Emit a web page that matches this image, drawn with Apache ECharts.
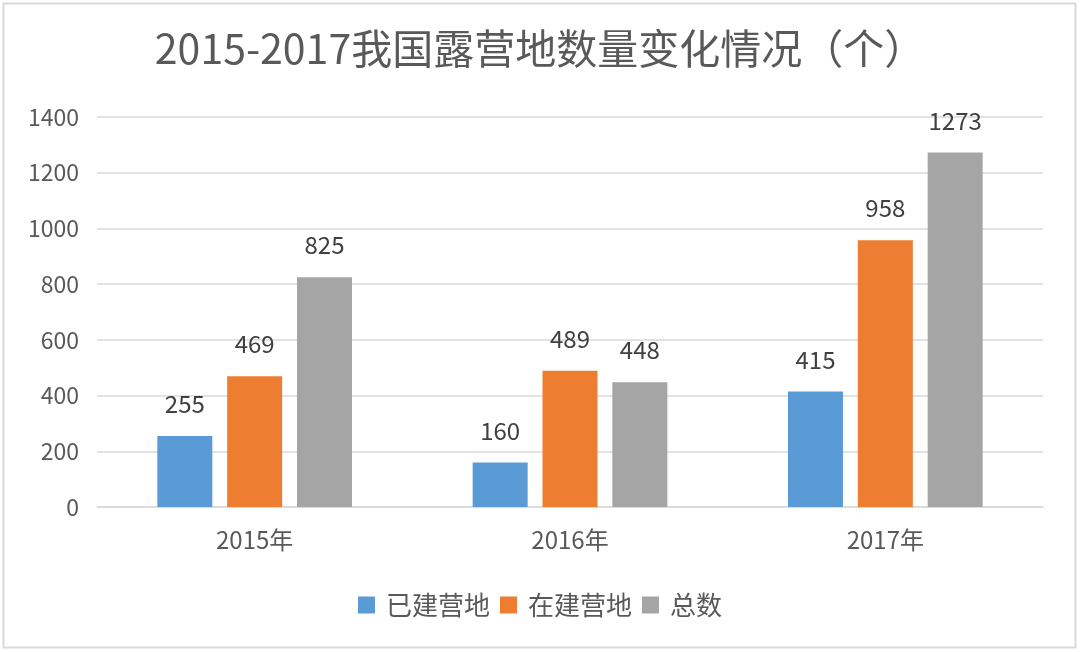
<!DOCTYPE html>
<html><head><meta charset="utf-8">
<script src="https://cdn.jsdelivr.net/npm/echarts@6/dist/echarts.min.js"></script>
<style>html,body{margin:0;padding:0;background:#fff}#c{width:1080px;height:652px}</style>
</head><body><div id="c"></div>
<script>
const categories = ['2015年', '2016年', '2017年'];
const built = [255, 160, 415];
const building = [469, 489, 958];
const total = [825, 448, 1273];
const seriesNames = ['已建营地', '在建营地', '总数'];
const yTicks = { min: 0, max: 1400, interval: 200 };

const font = '"Noto Sans CJK SC", "Noto Sans", sans-serif';
const chart = echarts.init(document.getElementById('c'));
const label = { show: true, position: 'top', distance: 20, fontSize: 24, color: '#404040', fontFamily: font };
chart.setOption({
  backgroundColor: '#fff',
  animation: false,
  graphic: [{ type: 'rect', shape: { x: 3.5, y: 3.5, width: 1072, height: 644 }, style: { fill: 'none', stroke: '#d9d9d9', lineWidth: 2 } }],
  title: { text: '2015-2017我国露营地数量变化情况（个）', left: 'center', top: 23, textStyle: { fontSize: 41, fontWeight: 'normal', color: '#595959', fontFamily: font } },
  legend: { bottom: 29, left: 'center', itemWidth: 17, itemHeight: 17, itemGap: 10, icon: 'rect', textStyle: { fontSize: 26, color: '#595959', fontFamily: font, padding: [0, 0, 0, 6] }, data: seriesNames },
  grid: { left: 97, right: 37, top: 117, bottom: 145 },
  xAxis: { type: 'category', data: categories, axisLine: { lineStyle: { color: '#d9d9d9', width: 1.5 } }, axisTick: { show: false }, axisLabel: { fontSize: 24, color: '#595959', fontFamily: font, margin: 21 } },
  yAxis: { type: 'value', min: yTicks.min, max: yTicks.max, interval: yTicks.interval, axisLine: { show: false }, axisTick: { show: false }, splitLine: { lineStyle: { color: '#d9d9d9', width: 1.5 } }, axisLabel: { fontSize: 23, color: '#595959', fontFamily: font, margin: 18, formatter: v => String(v) } },
  series: [
    { name: seriesNames[0], type: 'bar', data: built, barWidth: 55, barGap: '27%', itemStyle: { color: '#5B9BD5' }, label },
    { name: seriesNames[1], type: 'bar', data: building, barWidth: 55, barGap: '27%', itemStyle: { color: '#ED7D31' }, label },
    { name: seriesNames[2], type: 'bar', data: total, barWidth: 55, barGap: '27%', itemStyle: { color: '#A5A5A5' }, label }
  ]
});
</script></body></html>
